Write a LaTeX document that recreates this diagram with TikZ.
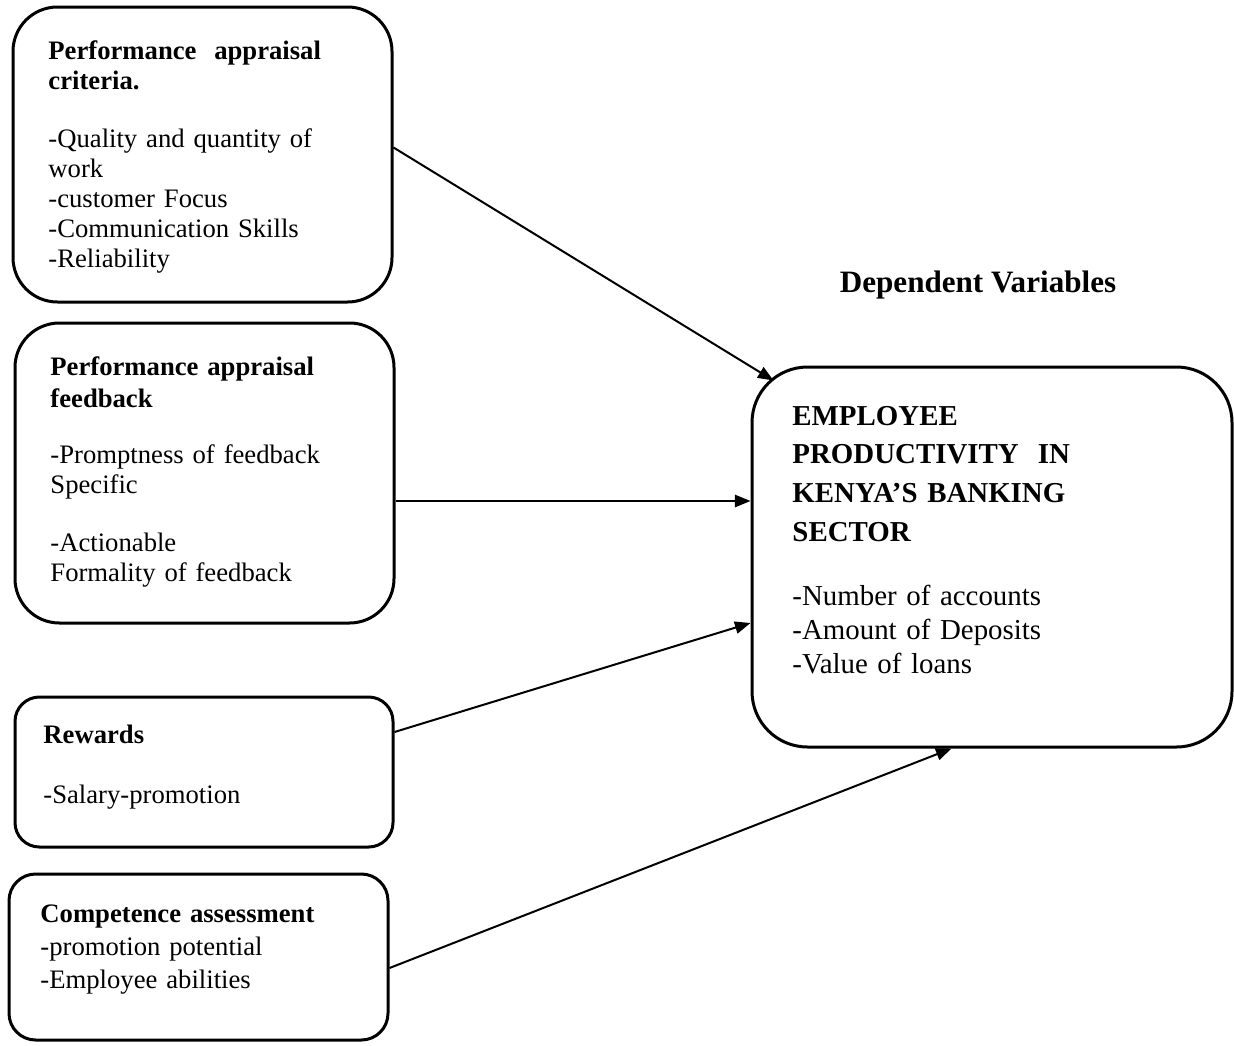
\documentclass[tikz,border=0pt]{standalone}
\usepackage{fontspec}
\setmainfont{Liberation Serif}
\usetikzlibrary{positioning, fit, arrows.meta}

\begin{document}
\begin{tikzpicture}[x=0.45pt, y=-0.45pt,
		box/.style={draw, line width=1.35pt, inner sep=0pt},
		txt/.style={anchor=base west, inner sep=0pt, text width=175pt, align=left},
		arr/.style={-{Triangle[length=7pt, width=5.5pt]}, line width=0.9pt}]
		\useasboundingbox (0,0) rectangle (1234,1045);
		% boxes
		\node[box, rounded corners=20pt, fit={(13,7) (392,302)}] (crit) {};
		\node[box, rounded corners=20pt, fit={(15,323) (394,623)}] (feed) {};
		\node[box, rounded corners=11pt, fit={(15,697) (393,847)}] (rew) {};
		\node[box, rounded corners=12pt, fit={(9,874) (388,1040)}] (comp) {};
		\node[box, rounded corners=25pt, fit={(752,367) (1232,747)}] (prod) {};
		
		% texts
		\node[txt, font=\fontsize{12}{13.5}\selectfont] (critText) at (48,59)
			{\textbf{Performance\ \ appraisal}\\ \textbf{criteria.}\\[12.6pt]
			-Quality and quantity of\\ work\\ -customer Focus\\ -Communication Skills\\ -Reliability};
		\node[txt, font=\fontsize{12}{13.5}\selectfont] (feedText) at (50,375)
			{\textbf{Performance appraisal}\\[0.9pt] \textbf{feedback}\\[11.7pt]
			-Promptness of feedback\\ Specific\\[13pt] -Actionable\\ Formality of feedback};
		\node[txt, font=\fontsize{12}{13.5}\selectfont] (rewText) at (43,743)
			{\textbf{Rewards}\\[13.5pt] -Salary-promotion};
		\node[txt, font=\fontsize{12}{14.85}\selectfont] (compText) at (40,922)
			{\textbf{Competence assessment}\\ -promotion potential\\ -Employee abilities};
		\node[txt, font=\fontsize{13}{17.5}\selectfont\bfseries] (prodText) at (792,425)
			{EMPLOYEE\\ PRODUCTIVITY\ \ IN\\ KENYA’S BANKING\\ SECTOR};
		\node[txt, font=\fontsize{13}{15.3}\selectfont] (prodList) at (792,605)
			{-Number of accounts\\ -Amount of Deposits\\ -Value of loans};
		\node[anchor=base, inner sep=0pt, font=\fontsize{14}{17}\selectfont\bfseries] (depvar) at (978,292) {Dependent Variables};
		
		% arrows
		\draw[arr] ([shift={(0,-7)}]crit.east) -- ([shift={(23,15)}]prod.north west);
		\draw[arr] ([shift={(0,28)}]feed.east) -- ([shift={(0,-56)}]prod.west);
		\draw[arr] ([shift={(0,-40)}]rew.east) -- ([shift={(0,66)}]prod.west);
		\draw[arr] ([shift={(0,11)}]comp.east) -- ([shift={(201,0)}]prod.south west);
	\end{tikzpicture}
\end{document}
